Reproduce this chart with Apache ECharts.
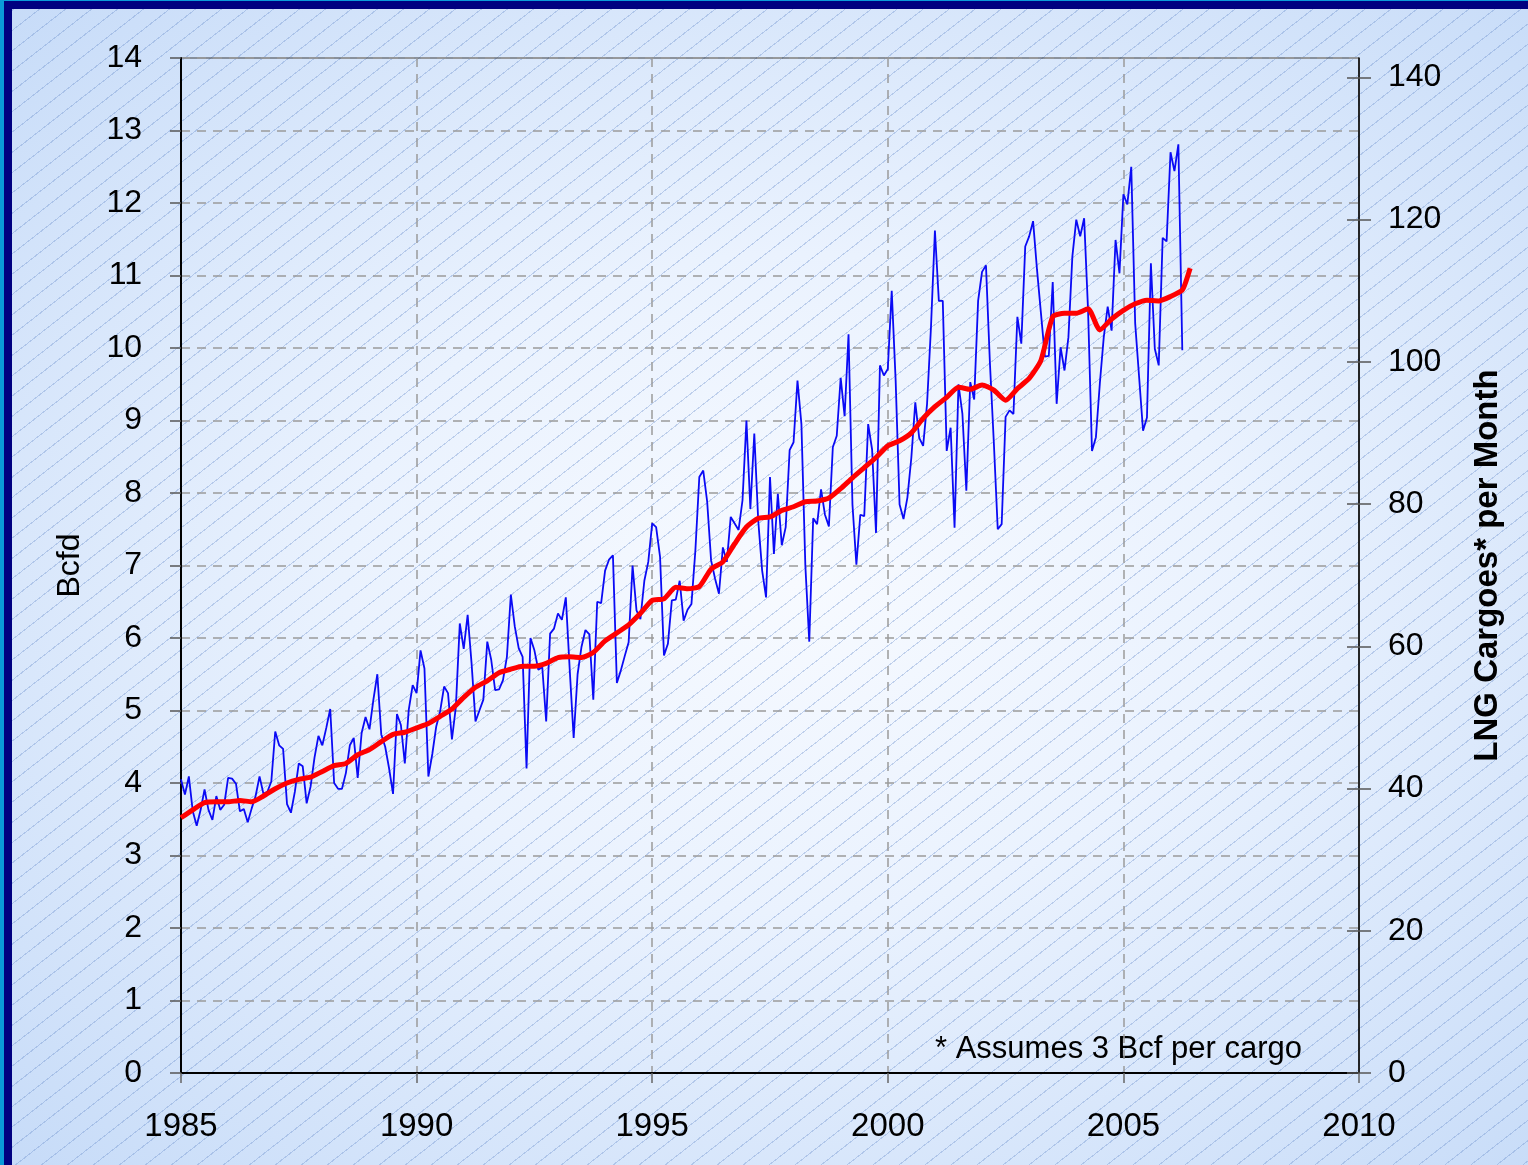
<!DOCTYPE html>
<html>
<head>
<meta charset="utf-8">
<script src="https://cdn.jsdelivr.net/npm/echarts@6/dist/echarts.min.js"></script>
<style>
html, body { margin: 0; padding: 0; }
body {
  width: 1528px; height: 1165px; overflow: hidden; position: relative;
  background:
    repeating-linear-gradient(142deg, rgba(0,0,0,0) 0px, rgba(0,0,0,0) 15px, rgba(110,145,205,0.38) 15px, rgba(110,145,205,0.38) 16px),
    radial-gradient(ellipse at 52% 50%, #f7faff 0%, #eaf2fe 40%, #c6dbf8 100%);
}
#cyanLeft { position: absolute; left: 0; top: 0; width: 4px; height: 1165px; background: #0a9ad8; }
#navyLeft { position: absolute; left: 4px; top: 1px; width: 8px; height: 1164px; background: #000080; }
#cyanTop { position: absolute; left: 0; top: 0; width: 1528px; height: 1px; background: #0a9ad8; }
#navyTop { position: absolute; left: 4px; top: 1px; width: 1524px; height: 8px; background: #000080; }
#main { position: absolute; left: 0; top: 0; width: 1528px; height: 1165px; }
</style>
</head>
<body>
<div id="cyanLeft"></div><div id="cyanTop"></div><div id="navyLeft"></div><div id="navyTop"></div>
<div id="main"></div>
<script>
// monthly LNG imports, Bcfd, starting Jan 1985
var startYear = 1985;
var monthlyBcfd = [
  4.05, 3.84, 4.09, 3.61, 3.41, 3.63, 3.91, 3.63, 3.49, 3.82, 3.63, 3.70,
  4.07, 4.06, 3.99, 3.61, 3.64, 3.46, 3.65, 3.82, 4.09, 3.85, 3.88, 4.02,
  4.71, 4.52, 4.47, 3.71, 3.59, 3.88, 4.27, 4.23, 3.72, 3.95, 4.35, 4.65,
  4.52, 4.76, 5.02, 4.00, 3.92, 3.92, 4.14, 4.52, 4.62, 4.07, 4.69, 4.91,
  4.74, 5.15, 5.50, 4.67, 4.50, 4.20, 3.85, 4.95, 4.80, 4.27, 5.01, 5.35,
  5.24, 5.83, 5.58, 4.09, 4.40, 4.78, 4.99, 5.33, 5.24, 4.60, 5.05, 6.20,
  5.85, 6.32, 5.65, 4.85, 5.00, 5.15, 5.95, 5.70, 5.28, 5.29, 5.42, 5.74,
  6.60, 6.16, 5.86, 5.74, 4.20, 6.00, 5.83, 5.56, 5.60, 4.85, 6.06, 6.13,
  6.34, 6.25, 6.56, 5.56, 4.62, 5.50, 5.88, 6.11, 6.05, 5.15, 6.50, 6.48,
  6.93, 7.08, 7.14, 5.38, 5.55, 5.75, 5.94, 7.00, 6.38, 6.26, 6.79, 7.05,
  7.58, 7.53, 7.12, 5.76, 5.92, 6.52, 6.53, 6.79, 6.24, 6.39, 6.47, 7.21,
  8.22, 8.31, 7.88, 7.07, 6.82, 6.61, 7.25, 7.05, 7.67, 7.58, 7.49, 7.90,
  9.00, 7.78, 8.82, 7.62, 6.93, 6.56, 8.22, 7.16, 7.99, 7.28, 7.53, 8.59,
  8.70, 9.55, 8.95, 7.00, 5.95, 7.65, 7.57, 8.05, 7.70, 7.54, 8.63, 8.79,
  9.59, 9.06, 10.19, 7.84, 7.01, 7.70, 7.68, 8.95, 8.60, 7.45, 9.76, 9.62,
  9.71, 10.79, 9.55, 7.84, 7.64, 7.94, 8.49, 9.25, 8.76, 8.65, 9.23, 10.29,
  11.62, 10.65, 10.65, 8.58, 8.90, 7.52, 9.50, 9.09, 8.03, 9.53, 9.29, 10.65,
  11.05, 11.14, 9.80, 8.70, 7.50, 7.57, 9.05, 9.14, 9.09, 10.43, 10.06, 11.40,
  11.54, 11.75, 11.08, 10.48, 9.88, 9.89, 10.91, 9.23, 10.01, 9.69, 10.15, 11.26,
  11.77, 11.54, 11.79, 10.52, 8.58, 8.77, 9.51, 10.15, 10.57, 10.24, 11.49, 11.03,
  12.12, 11.98, 12.50, 10.34, 9.60, 8.86, 9.04, 11.17, 9.99, 9.76, 11.52, 11.47,
  12.70, 12.44, 12.81, 9.97
];

// 12-month average (red), read every quarter from Jan 1985
var avgQuarterly = [
  3.52, 3.63, 3.73, 3.74, 3.74, 3.76, 3.74, 3.82, 3.92, 4.00,
  4.05, 4.08, 4.16, 4.24, 4.27, 4.39, 4.46, 4.57, 4.67, 4.70,
  4.76, 4.82, 4.92, 5.02, 5.18, 5.32, 5.41, 5.52, 5.57, 5.61,
  5.61, 5.65, 5.73, 5.74, 5.73, 5.80, 5.96, 6.07, 6.18, 6.34,
  6.52, 6.54, 6.70, 6.68, 6.71, 6.95, 7.05, 7.30, 7.53, 7.65,
  7.67, 7.76, 7.81, 7.88, 7.89, 7.93, 8.06, 8.21, 8.35, 8.49,
  8.65, 8.72, 8.83, 9.03, 9.19, 9.32, 9.46, 9.43, 9.49, 9.42,
  9.28, 9.44, 9.58, 9.83, 10.43, 10.48, 10.48, 10.54, 10.25, 10.40,
  10.52, 10.61, 10.66, 10.65, 10.71, 10.80
];
// last few months of the average (month index from Jan 1985)
var avgTailMonths = [256, 257];
var avgTailValues = [10.93, 11.10];

var cargoTicks = [0, 20, 40, 60, 80, 100, 120, 140];
var bcfPerCargo = 3;
var daysPerMonth = 30.58;
var bcfdMax = 14;
var cargoMax = bcfdMax * daysPerMonth / bcfPerCargo;

var blueData = monthlyBcfd.map(function (v, k) { return [startYear + k / 12, v]; });
var redData = avgQuarterly.map(function (v, q) { return [startYear + q / 4, v]; });
avgTailMonths.forEach(function (m, i) { redData.push([startYear + m / 12, avgTailValues[i]]); });

var chartDom = document.getElementById('main');
var myChart = echarts.init(chartDom, null, { renderer: 'canvas' });
var font = '"Liberation Sans", Arial, sans-serif';

var option = {
  animation: false,
  backgroundColor: 'transparent',
  grid: {
    left: 181, right: 169, top: 58, bottom: 92,
    show: true, borderColor: '#3c3c3c', borderWidth: 1, backgroundColor: 'transparent'
  },
  xAxis: {
    type: 'value', min: 1985, max: 2010, interval: 5,
    axisLine: { show: true, lineStyle: { color: '#000', width: 2 } },
    axisTick: { show: true, length: 10, lineStyle: { color: '#666', width: 1.5 } },
    axisLabel: {
      color: '#000', fontSize: 33, fontFamily: font, margin: 37,
      formatter: function (v) { return String(v); }
    },
    splitLine: { show: true, lineStyle: { color: '#9a9a9a', type: [9, 7], width: 1.5 } }
  },
  yAxis: [
    {
      type: 'value', min: 0, max: bcfdMax, interval: 1, position: 'left',
      name: 'Bcfd', nameLocation: 'middle', nameGap: 95, nameRotate: 90,
      nameTextStyle: { color: '#000', fontSize: 32, fontFamily: font },
      axisLine: { show: true, lineStyle: { color: '#000', width: 2 } },
      axisTick: { show: true, length: 11, lineStyle: { color: '#555', width: 1.5 } },
      axisLabel: { color: '#000', fontSize: 32, fontFamily: font, margin: 39, padding: [4, 0, 0, 0] },
      splitLine: { show: true, lineStyle: { color: '#9a9a9a', type: [9, 7], width: 1.5 } }
    },
    {
      type: 'value', min: 0, max: cargoMax, position: 'right',
      name: 'LNG Cargoes* per Month', nameLocation: 'middle', nameGap: 112, nameRotate: 90,
      nameTextStyle: { color: '#000', fontSize: 33, fontWeight: 'bold', fontFamily: font },
      axisLine: { show: true, lineStyle: { color: '#000', width: 1.5 } },
      axisTick: { show: true, length: 12, customValues: cargoTicks, lineStyle: { color: '#555', width: 1.5 } },
      axisLabel: { color: '#000', fontSize: 32, fontFamily: font, margin: 29, padding: [4, 0, 0, 0], customValues: cargoTicks },
      splitLine: { show: false }
    },
    {
      // inner half of the crossing ticks on the right axis
      type: 'value', min: 0, max: cargoMax, position: 'right',
      axisLine: { show: false },
      axisTick: { show: true, inside: true, length: 12, customValues: cargoTicks, lineStyle: { color: '#555', width: 1.5 } },
      axisLabel: { show: false },
      splitLine: { show: false }
    }
  ],
  graphic: [{
    type: 'text', left: 935, top: 1034,
    style: { text: '* Assumes 3 Bcf per cargo', font: '31px ' + font, fill: '#000' }
  }],
  series: [
    {
      name: 'Monthly', type: 'line', data: blueData, showSymbol: false, symbol: 'none',
      lineStyle: { color: '#0a0af5', width: 1.8 }, z: 2
    },
    {
      name: '12-month average', type: 'line', data: redData, showSymbol: false, symbol: 'none',
      smooth: 0.2, lineStyle: { color: '#ff0000', width: 5 }, z: 3
    }
  ]
};

option && myChart.setOption(option);
</script>
</body>
</html>
